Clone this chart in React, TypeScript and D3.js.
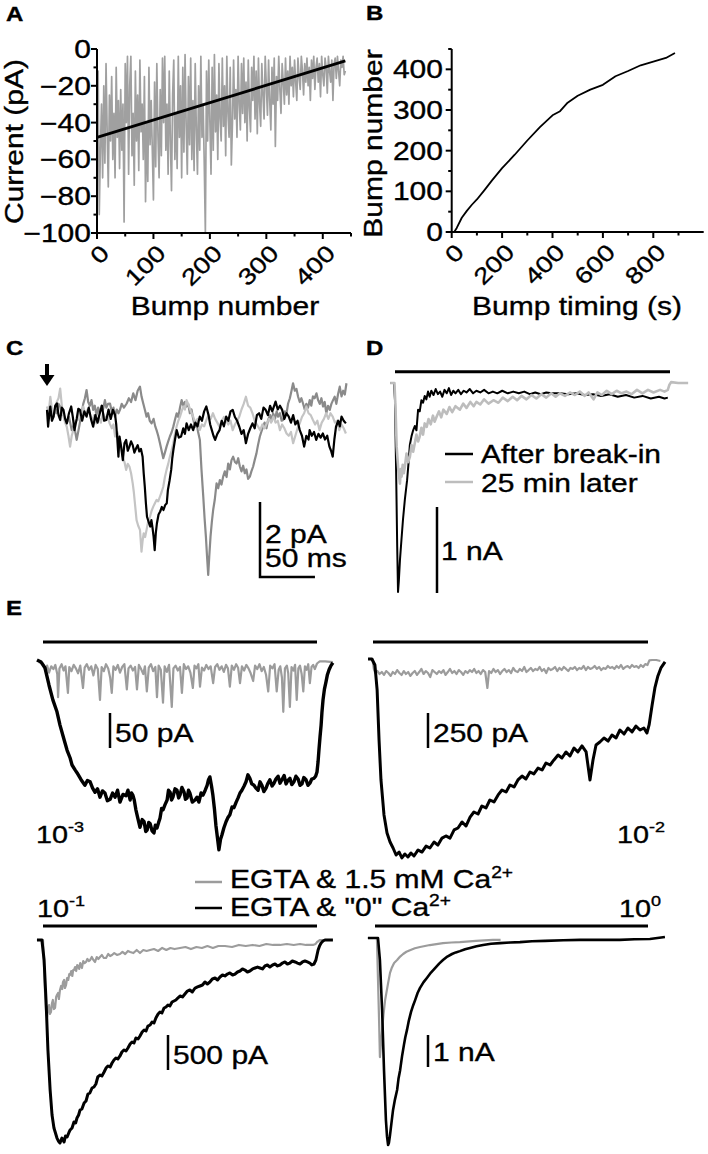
import React from 'react';
import * as d3 from 'd3';

const FONT = '"Liberation Sans", Arial, Helvetica, sans-serif';
const SX = 1.2;

// ---------- Panel A ----------
const aTicksY = [0, -20, -40, -60, -80, -100];
const aMinorY = [-10, -30, -50, -70, -90];
const aTicksX = [0, 100, 200, 300, 400];
const aMinorX = [50, 150, 250, 350, 450];
const aBumpStep = 2; // amplitudes listed for every 2nd bump
const aAmps = [
  -40, -12, -90, -55, -30, -70, -20, -62, -8, -45,
  -75, -25, -50, -15, -60, -35, -70, -10, -48, -28,
  -65, -22, -55, -30, -94, -8, -40, -4, -68, -20,
  -4, -58, -35, -74, -12, -50, -25, -66, -6, -45,
  -30, -60, -15, -83, -40, -72, -10, -52, -28, -55,
  -82, -18, -64, -8, -47, -70, -22, -58, -5, -40,
  -4, -55, -30, -68, -12, -50, -77, -25, -6, -60,
  -35, -65, -4, -48, -20, -70, -10, -56, -3, -42,
  -68, -15, -52, -5, -60, -28, -66, -8, -44, -68,
  -20, -55, -4, -48, -30, -62, -100, -12, -50, -6,
  -40, -68, -10, -55, -3, -45, -25, -60, -8, -38,
  -50, -5, -42, -20, -58, -4, -35, -48, -10, -63,
  -40, -6, -38, -22, -48, -4, -30, -44, -8, -35,
  -5, -40, -18, -50, -6, -32, -45, -10, -28, -4,
  -38, -12, -46, -5, -30, -42, -8, -25, -38, -4,
  -20, -36, -6, -28, -44, -10, -30, -5, -53, -15,
  -28, -4, -22, -35, -8, -18, -30, -5, -25, -12,
  -30, -4, -20, -10, -26, -6, -18, -28, -5, -15,
  -22, -4, -12, -25, -8, -18, -5, -20, -10, -28,
  -6, -16, -4, -22, -10, -5, -18, -8, -26, -4,
  -14, -20, -5, -10, -24, -4, -12, -18, -6, -28,
  -8, -5, -16, -4, -12, -20, -6, -10, -4, -14,
  -12,
];
const aFit: [number, number][] = [[0, -48], [440, -6.5]];

// ---------- Panel B ----------
const bTicksY = [0, 100, 200, 300, 400];
const bMinorY = [50, 150, 250, 350, 450];
const bTicksX = [0, 200, 400, 600, 800];
const bMinorX = [100, 300, 500, 700, 900];
const bTime = [10, 20, 40, 60, 80, 100, 130, 160, 200, 250, 300, 350, 400, 430, 460, 500, 550, 600, 650, 700, 750, 800, 850, 886];
const bCount = [0, 10, 35, 52, 67, 80, 103, 127, 157, 190, 225, 258, 287, 297, 318, 335, 350, 362, 383, 396, 410, 419, 428, 440];

// ---------- Panel C (t in ms, current in pA) ----------
const cBlack: [number, number][] = [[0,0.19],[1,-0.26],[2,0.05],[3,0.28],[4.5,-0.1],[6,0.01],[7.5,0.3],[9,0.36],[10.5,0.05],[12,-0.08],[13.5,0.25],[15,0.19],[16.5,-0.05],[18,-0.17],[20,0.1],[22,0.28],[23.5,0.0],[25,-0.35],[27,-0.05],[28.5,0.22],[30,0.19],[32,-0.1],[34,0.15],[36,0.01],[38,0.25],[40,-0.05],[42,-0.26],[44,0.05],[46,-0.15],[48,0.10],[50,0.3],[52,-0.1],[54,-0.08],[56,0.2],[58,-0.05],[60,0.19],[62,0.05],[63,-0.2],[64,-0.6],[65,-1.06],[66,-0.52],[67.5,-0.8],[69,-1.15],[70.5,-0.7],[72,-0.61],[73.5,-0.9],[75,-0.79],[76.5,-0.65],[78,-0.75],[79.5,-0.95],[81,-0.84],[82.5,-0.75],[84,-0.92],[85.5,-0.85],[87,-1.06],[88,-1.5],[89,-1.86],[90,-2.3],[91,-2.66],[92.5,-2.8],[94,-2.92],[95,-2.75],[96,-2.95],[97,-3.19],[98,-3.55],[99,-3.1],[100,-2.84],[101.5,-2.6],[103,-2.52],[104.5,-2.4],[106,-2.48],[107.5,-2.35],[109,-2.3],[110,-1.95],[111.5,-1.7],[113,-1.41],[114,-1.1],[115,-0.88],[116.5,-0.6],[118,-0.35],[120,-0.55],[122,-0.52],[124,-0.3],[125.5,-0.45],[127,-0.17],[129,-0.35],[131,-0.2],[133,-0.35],[135,-0.15],[137,-0.25],[139,0.01],[141,-0.1],[143,0.15],[145,0.28],[147,0.05],[148.5,-0.2],[150,-0.35],[151.5,-0.5],[153,-0.61],[155,-0.45],[157,-0.35],[159,-0.1],[161,-0.25],[163,0.01],[165,-0.1],[167,0.15],[169,0.19],[171,0.0],[173,-0.1],[175,-0.26],[177,-0.45],[179,-0.35],[181,-0.7],[183,-0.45],[185,-0.3],[187,-0.17],[189,-0.3],[191,0.05],[193,0.1],[195,-0.05],[197,0.25],[199,0.19],[201,0.05],[203,0.3],[205,0.15],[208,0.41],[210,0.2],[212,0.3],[214,0.19],[216,-0.05],[218,0.1],[220,0.01],[222,-0.15],[224,0.05],[226,-0.2],[228,-0.1],[230,-0.35],[232,-0.5],[234,-0.79],[236,-0.5],[238,-0.6],[239,-0.35],[241,-0.5],[243,-0.4],[245,-0.61],[247,-0.45],[249,-0.55],[251,-0.44],[253,-0.6],[255,-0.5],[257,-0.79],[258.5,-0.9],[260,-1.06],[261.5,-0.6],[263,-0.26],[265,-0.1],[266.5,-0.25],[268,0.01],[270,-0.1],[272,-0.17]];
const cLight: [number, number][] = [[0,0.28],[1.5,0.1],[3,0.54],[4.5,0.2],[6,0.01],[7.5,0.25],[9,0.41],[10.5,0.5],[12,0.76],[13.5,0.3],[15,0.01],[16.5,-0.15],[18,-0.26],[19.5,-0.5],[21,-0.79],[22.5,-0.5],[24,-0.35],[26,-0.1],[28,-0.08],[30,0.15],[31.5,0.0],[33,0.28],[35,0.05],[37,0.2],[39,0.1],[41,-0.1],[43,0.05],[45,-0.17],[47,0.0],[49,-0.15],[51,0.1],[53,-0.05],[55,0.05],[57,-0.17],[59,-0.3],[60.5,-0.2],[62,-0.52],[64,-0.4],[66,-0.61],[67.5,-0.8],[69,-1.06],[70.5,-1.2],[72,-1.41],[73.5,-1.25],[75,-1.32],[76.5,-1.5],[78,-1.77],[79,-2.0],[80,-2.3],[81.5,-2.75],[83,-2.9],[84.6,-3.01],[85.3,-3.3],[86,-3.59],[87,-3.3],[88,-3.1],[89.3,-3.2],[90.6,-3.01],[92,-2.8],[93.7,-2.66],[95.2,-2.5],[96.7,-2.39],[98.2,-2.3],[99.7,-2.21],[101.2,-2.25],[102.8,-2.12],[104.3,-2.0],[105.8,-1.86],[107.3,-1.6],[108.8,-1.41],[110.3,-1.25],[111.8,-1.06],[113.3,-0.9],[114.9,-0.7],[116.4,-0.45],[117.9,-0.26],[119.5,-0.1],[121,0.01],[122.5,0.15],[124,0.28],[125.5,0.2],[127,0.45],[129,0.3],[131,0.15],[133,0.01],[135,-0.15],[137,-0.05],[139,-0.35],[141,-0.2],[143,-0.25],[145,-0.08],[147,0.05],[149,-0.05],[151,0.1],[153,-0.05],[155,-0.15],[157,-0.26],[159,-0.1],[161,0.0],[163,-0.08],[165,-0.2],[167,-0.1],[169,-0.35],[171,-0.2],[173,-0.1],[175,0.01],[177,0.2],[179,0.35],[181,0.54],[183,0.3],[185,0.25],[187,0.1],[189,-0.1],[191,-0.2],[194,-0.35],[196,-0.2],[198,-0.3],[200,-0.17],[202,-0.05],[204,-0.15],[206,0.01],[208,-0.15],[210,-0.1],[212,-0.35],[214,-0.2],[216,-0.3],[218,-0.44],[220,-0.5],[222,-0.4],[224,-0.7],[226,-0.5],[228,-0.3],[230,-0.17],[232,0.0],[234,0.1],[236,0.28],[238,0.1],[240,0.05],[242,-0.08],[244,-0.2],[246,-0.1],[248,-0.35],[250,-0.15],[252,-0.05],[254,0.1],[256,-0.05],[258,0.1],[260,0.01],[262,-0.15],[264,-0.1],[266,-0.35],[268,-0.2],[270,-0.3],[272,-0.44]];
const cMid: [number, number][] = [[0,0.19],[1.5,0.0],[3,0.25],[4.5,0.1],[6,0.01],[7.5,0.2],[9,0.1],[10.5,0.35],[12,0.28],[13.5,0.05],[15,0.1],[16.5,-0.1],[18,-0.17],[20,0.0],[22.5,-0.35],[24.5,-0.2],[27,-0.61],[29,-0.3],[31.5,0.1],[33,0.35],[34.5,0.5],[36,0.72],[37.5,0.4],[39,0.3],[40.5,0.45],[42,0.19],[43.5,0.3],[45,0.05],[46.5,0.25],[48,0.1],[49.5,0.3],[51,0.2],[52.7,0.45],[54,0.25],[55.5,0.35],[57.3,0.36],[59,0.15],[60.5,0.25],[61.8,0.01],[63.5,0.2],[65,0.1],[66.4,0.19],[68,0.35],[70,0.25],[72.5,0.36],[74.5,0.5],[76.5,0.4],[78.5,0.63],[80.5,0.45],[82.5,0.7],[84.6,0.81],[86,0.55],[87.6,0.36],[89,0.2],[90.6,0.01],[92,0.1],[93.5,-0.1],[95.2,-0.17],[97,-0.05],[98.5,-0.25],[99.7,-0.35],[101.2,-0.5],[102.8,-0.7],[104.3,-0.9],[105.8,-1.1],[107.3,-0.95],[108.8,-0.79],[110.3,-0.65],[111.8,-0.52],[113.5,-0.4],[115,-0.25],[116.4,-0.08],[118,0.1],[119.5,0.0],[121,0.25],[122.5,0.45],[124,0.3],[125.5,0.4],[127,0.28],[128.5,0.35],[130,0.1],[131.5,0.2],[133,-0.05],[134.6,-0.26],[136,-0.15],[137.5,-0.4],[139.1,-0.61],[140.6,-1.41],[142.2,-2.12],[143.4,-2.7],[144.6,-3.19],[145.6,-3.7],[146.7,-4.21],[147.7,-3.7],[148.8,-3.19],[150,-2.8],[151.2,-2.48],[152.7,-2.2],[154.3,-1.77],[155.8,-1.9],[157.3,-1.68],[158.8,-1.8],[160.3,-1.59],[161.8,-1.45],[163.4,-1.6],[164.9,-1.24],[166.4,-1.4],[167.9,-1.15],[169.4,-1.06],[171,-1.2],[172.5,-1.24],[174,-1.1],[175.5,-1.32],[177,-1.45],[178.5,-1.3],[180,-1.5],[181.5,-1.4],[183,-1.65],[184.6,-1.59],[186,-1.45],[187.6,-1.32],[189,-1.15],[190.6,-0.97],[192,-0.75],[193.7,-0.52],[195,-0.4],[196.7,-0.26],[198,-0.15],[199.7,-0.3],[201.2,-0.08],[203,0.05],[204.5,-0.1],[205.8,0.1],[207.5,-0.05],[209,0.15],[210.3,0.01],[212,0.1],[213.5,-0.1],[214.9,-0.08],[216.5,0.15],[218,0.1],[219.4,0.36],[221,0.5],[222.5,0.7],[223.9,0.9],[225.5,0.7],[227,0.75],[228.5,0.54],[230,0.4],[231.5,0.5],[233,0.36],[234.5,0.2],[236,0.35],[237.5,0.25],[239.1,0.45],[240.5,0.3],[242,0.55],[243.5,0.5],[245.2,0.63],[246.7,0.45],[248.2,0.35],[249.7,0.5],[251.2,0.28],[252.7,0.4],[254.2,0.1],[255.7,0.3],[257.3,0.19],[258.8,0.35],[260.3,0.45],[261.8,0.54],[263.3,0.35],[264.8,0.6],[266.4,0.81],[268,0.55],[269.5,0.7],[271,0.6],[272.5,0.9]];
const cBarTime = 50; // ms
const cBarAmp = 2; // pA

// ---------- Panel D (t in ms, current in nA) ----------
const dStim = [0, 500];
const dBlack: [number, number][] = [[-9,0],[-2,0],[0,-0.2],[2,-1.01],[4,-1.9],[5.5,-2.43],[7,-2.3],[9,-2.06],[12,-1.8],[14.5,-1.59],[18,-1.35],[22,-1.13],[25,-0.9],[27,-0.72],[30,-0.62],[33,-0.55],[36,-0.5],[39,-0.55],[42,-0.31],[45,-0.33],[48,-0.2],[51,-0.23],[54,-0.15],[57,-0.19],[60,-0.1],[63,-0.16],[66,-0.09],[70,-0.14],[74,-0.07],[78,-0.13],[82,-0.1],[86,-0.16],[90,-0.08],[94,-0.12],[98,-0.06],[102,-0.14],[106,-0.09],[110,-0.12],[115,-0.08],[120,-0.13],[125,-0.09],[130,-0.11],[136,-0.07],[142,-0.12],[148,-0.09],[155,-0.11],[162,-0.08],[170,-0.12],[178,-0.1],[186,-0.12],[195,-0.09],[205,-0.12],[215,-0.1],[225,-0.12],[235,-0.1],[245,-0.13],[255,-0.11],[265,-0.13],[275,-0.11],[285,-0.12],[300,-0.12],[315,-0.13],[330,-0.12],[345,-0.14],[360,-0.13],[375,-0.15],[390,-0.13],[405,-0.16],[420,-0.14],[435,-0.17],[450,-0.15],[465,-0.18],[480,-0.16],[490,-0.18],[496,-0.17]];
const dGray: [number, number][] = [[-9,0],[-1,0],[1,-0.3],[3,-0.74],[6,-1.01],[9,-1.17],[10.5,-1.0],[12,-1.09],[14,-0.95],[16,-1.05],[18,-0.97],[21,-0.82],[24,-0.92],[27,-0.86],[30,-0.72],[33,-0.8],[36,-0.7],[39,-0.6],[42,-0.68],[45,-0.62],[48,-0.52],[51,-0.6],[54,-0.47],[57.6,-0.51],[61,-0.42],[65,-0.48],[69,-0.38],[72,-0.45],[75.8,-0.39],[80,-0.33],[84,-0.4],[88,-0.31],[94,-0.36],[99,-0.28],[104,-0.34],[110,-0.27],[118,-0.31],[124,-0.24],[130,-0.29],[137,-0.22],[143,-0.27],[148,-0.22],[155,-0.25],[162,-0.19],[170,-0.24],[179,-0.2],[188,-0.23],[196,-0.17],[205,-0.21],[214,-0.16],[222,-0.2],[230,-0.15],[239,-0.19],[248,-0.14],[257,-0.18],[266,-0.13],[275,-0.17],[284,-0.12],[292,-0.16],[300,-0.12],[309,-0.15],[318,-0.11],[327,-0.14],[336,-0.1],[345,-0.15],[352,-0.11],[361,-0.19],[368,-0.11],[376,-0.14],[385,-0.09],[394,-0.13],[403,-0.09],[412,-0.12],[421,-0.1],[430,-0.13],[440,-0.08],[450,-0.12],[460,-0.08],[470,-0.11],[482,-0.08],[490,-0.1],[496,-0.08],[499,-0.02],[502,0.01],[515,0],[533,0]];
const dBarAmp = 1; // nA
const dLegend = ['After break-in', '25 min later'];

// ---------- Panel E (t in ms, stimulus 0-1000) ----------
const eStim = [0, 1000];
const eLabels = ['-3', '-2', '-1', '0'];
const eBars = ['50 pA', '250 pA', '500 pA', '1 nA'];
const eBarAmps = [-50, -250, -500, -1];
const eLegend = ['EGTA & 1.5 mM Ca', 'EGTA & "0" Ca'];

const eTLBlack: [number, number][] = [[-22,0],[-7,-3],[7,-11],[22,-36],[36,-57],[51,-74],[62,-93],[77,-114],[88,-129],[99,-140],[106,-150],[117,-157],[124,-161],[139,-171],[153,-179],[162,-172],[172,-174],[181,-183],[190,-189],[199,-184],[208,-196],[217,-187],[226,-190],[235,-201],[245,-199],[254,-190],[263,-196],[272,-186],[281,-203],[292,-192],[303,-194],[310,-186],[318,-200],[323,-190],[328,-193],[333,-200],[339,-214],[346,-226],[354,-239],[362,-228],[369,-231],[375,-245],[380,-243],[386,-232],[391,-234],[398,-244],[405,-247],[410,-236],[416,-240],[422,-232],[427,-226],[433,-212],[438,-214],[445,-207],[453,-200],[458,-186],[464,-189],[469,-200],[474,-196],[482,-184],[489,-186],[495,-197],[500,-193],[507,-182],[515,-189],[520,-199],[526,-197],[531,-186],[536,-190],[545,-203],[555,-200],[562,-196],[569,-203],[577,-190],[584,-193],[592,-186],[599,-179],[604,-171],[609,-167],[615,-180],[620,-193],[626,-214],[631,-236],[637,-255],[642,-271],[648,-256],[653,-250],[660,-240],[668,-231],[675,-225],[682,-221],[690,-210],[697,-211],[705,-203],[712,-197],[719,-190],[726,-186],[734,-180],[741,-174],[748,-164],[755,-169],[762,-177],[770,-179],[777,-183],[785,-186],[792,-174],[799,-179],[806,-188],[814,-183],[821,-176],[828,-171],[836,-180],[843,-176],[850,-170],[858,-166],[865,-176],[872,-171],[880,-165],[887,-177],[894,-172],[901,-169],[908,-178],[916,-174],[923,-166],[931,-170],[938,-179],[945,-177],[952,-168],[960,-171],[967,-179],[974,-176],[981,-170],[989,-169],[995,-166],[1000,-160],[1004,-145],[1007,-129],[1011,-110],[1015,-93],[1018,-75],[1022,-57],[1027,-42],[1033,-31],[1038,-21],[1044,-14],[1051,-8],[1058,-4]];
const eTLGray: [number, number][] = [[-15,-3],[0,-5],[8,-14],[15,-8],[22,-18],[30,-9],[38,-13],[45,-7],[52,-20],[55,-53],[60,-12],[68,-6],[75,-15],[82,-9],[91,-47],[96,-10],[104,-16],[112,-7],[120,-12],[128,-19],[136,-8],[146,-40],[152,-11],[160,-6],[168,-14],[176,-9],[184,-22],[192,-7],[200,-13],[208,-57],[214,-10],[222,-16],[230,-6],[238,-12],[245,-25],[251,-47],[257,-9],[265,-14],[273,-7],[281,-18],[289,-10],[297,-6],[306,-42],[312,-12],[320,-8],[328,-15],[336,-10],[343,-42],[350,-7],[358,-13],[366,-20],[372,-9],[379,-45],[386,-11],[394,-6],[402,-16],[410,-10],[416,-53],[422,-8],[430,-14],[438,-61],[444,-9],[452,-17],[460,-7],[470,-67],[476,-12],[484,-8],[492,-15],[500,-10],[507,-47],[514,-6],[522,-13],[530,-9],[538,-18],[547,-40],[553,-8],[560,-12],[567,-6],[573,-38],[580,-11],[588,-15],[596,-7],[604,-13],[612,-9],[621,-33],[628,-10],[636,-6],[644,-14],[652,-9],[660,-17],[668,-7],[675,-12],[682,-38],[689,-8],[697,-14],[705,-6],[712,-11],[719,-33],[726,-9],[734,-15],[742,-7],[750,-12],[758,-19],[767,-30],[774,-8],[782,-13],[790,-6],[798,-16],[806,-10],[814,-21],[822,-45],[829,-8],[837,-12],[845,-6],[853,-45],[860,-14],[866,-9],[872,-25],[877,-74],[883,-12],[890,-8],[895,-19],[901,-67],[907,-10],[914,-15],[920,-7],[926,-57],[932,-12],[938,-8],[944,-20],[950,-45],[956,-9],[962,-14],[968,-6],[974,-33],[980,-10],[986,-7],[992,-13],[1000,-5],[1010,-2],[1030,-2],[1058,-3]];

const eTRBlack: [number, number][] = [[-18,0],[-4,0],[7,-43],[15,-221],[22,-579],[29,-864],[40,-1114],[51,-1243],[62,-1307],[73,-1350],[84,-1400],[95,-1379],[105,-1421],[116,-1393],[127,-1414],[138,-1386],[149,-1407],[164,-1364],[178,-1379],[193,-1336],[207,-1350],[222,-1307],[236,-1329],[251,-1279],[265,-1264],[280,-1279],[295,-1221],[309,-1207],[324,-1164],[338,-1193],[353,-1129],[367,-1093],[382,-1107],[396,-1050],[411,-1064],[425,-1007],[440,-1021],[455,-971],[469,-936],[484,-950],[498,-900],[513,-914],[527,-864],[542,-836],[556,-857],[571,-807],[585,-821],[600,-779],[615,-793],[629,-743],[644,-757],[658,-721],[673,-686],[687,-707],[702,-664],[716,-693],[731,-636],[745,-664],[760,-621],[775,-664],[789,-864],[800,-721],[811,-614],[825,-593],[840,-564],[855,-586],[869,-543],[884,-564],[898,-507],[913,-536],[927,-493],[942,-521],[956,-479],[971,-507],[985,-493],[996,-529],[1004,-471],[1015,-329],[1025,-207],[1036,-121],[1047,-64],[1062,-21]];
const eTRGray: [number, number][] = [[-18,0],[-2,0],[3,-70],[8,-100],[16,-86],[24,-107],[32,-93],[40,-114],[48,-86],[56,-100],[64,-121],[72,-93],[80,-107],[88,-79],[96,-100],[104,-114],[112,-86],[120,-107],[128,-93],[136,-121],[144,-100],[152,-86],[160,-114],[168,-93],[176,-71],[184,-107],[192,-86],[200,-100],[208,-129],[216,-79],[224,-93],[232,-107],[240,-86],[248,-100],[256,-79],[264,-114],[272,-93],[280,-71],[288,-100],[296,-86],[304,-107],[312,-79],[320,-93],[328,-114],[336,-86],[344,-100],[352,-79],[360,-93],[368,-71],[376,-100],[384,-86],[392,-107],[400,-79],[408,-93],[416,-207],[422,-86],[430,-100],[438,-71],[446,-93],[454,-79],[462,-107],[470,-86],[478,-71],[486,-93],[494,-79],[502,-100],[510,-64],[518,-86],[526,-93],[534,-71],[542,-86],[550,-57],[558,-93],[566,-79],[574,-64],[582,-86],[590,-71],[598,-79],[606,-57],[614,-86],[622,-71],[630,-100],[638,-64],[646,-79],[654,-71],[662,-57],[670,-86],[678,-64],[686,-79],[694,-57],[702,-71],[710,-86],[718,-64],[726,-71],[734,-57],[742,-79],[750,-64],[758,-71],[766,-50],[774,-79],[782,-57],[790,-71],[798,-64],[806,-50],[814,-71],[822,-57],[830,-79],[838,-64],[846,-71],[854,-50],[862,-64],[870,-57],[878,-71],[886,-50],[894,-64],[902,-43],[910,-71],[918,-57],[926,-50],[934,-64],[942,-43],[950,-57],[958,-50],[966,-64],[974,-43],[982,-57],[990,-36],[998,-43],[1005,-10],[1015,-7],[1030,-7],[1045,-14]];

const eBLBlack: [number, number][] = [[-22,0],[-4,0],[4,-286],[11,-857],[18,-1571],[26,-2143],[33,-2500],[40,-2686],[51,-2829],[56,-2871],[62,-2900],[69,-2829],[77,-2886],[82,-2800],[88,-2814],[94,-2757],[99,-2714],[106,-2686],[113,-2600],[119,-2614],[124,-2543],[130,-2500],[135,-2429],[142,-2414],[150,-2329],[157,-2300],[164,-2200],[171,-2186],[179,-2114],[186,-2100],[193,-2057],[200,-1957],[208,-1929],[215,-1943],[223,-1886],[230,-1829],[237,-1800],[245,-1814],[252,-1757],[259,-1714],[266,-1686],[273,-1700],[281,-1657],[288,-1600],[296,-1571],[303,-1586],[310,-1543],[318,-1486],[325,-1457],[332,-1471],[339,-1400],[347,-1414],[354,-1371],[362,-1314],[369,-1286],[376,-1300],[383,-1229],[391,-1214],[398,-1171],[405,-1186],[412,-1114],[420,-1057],[427,-1029],[434,-1043],[442,-971],[449,-957],[456,-929],[463,-943],[471,-886],[478,-871],[485,-857],[492,-829],[500,-800],[509,-814],[518,-771],[527,-729],[536,-714],[545,-743],[555,-686],[564,-671],[573,-657],[582,-643],[591,-600],[600,-629],[609,-600],[618,-557],[628,-543],[637,-571],[646,-529],[655,-500],[664,-514],[673,-486],[682,-471],[692,-500],[701,-486],[710,-457],[719,-443],[728,-414],[737,-429],[746,-457],[755,-443],[765,-414],[774,-400],[783,-386],[792,-400],[801,-414],[810,-371],[819,-357],[828,-386],[838,-357],[847,-343],[856,-371],[865,-357],[874,-329],[883,-314],[892,-343],[901,-329],[910,-300],[920,-314],[929,-329],[938,-343],[947,-314],[956,-300],[965,-314],[974,-329],[981,-357],[989,-343],[996,-286],[1004,-143],[1010,-80],[1015,-43],[1022,-14],[1029,0],[1058,0]];
const eBLGray: [number, number][] = [[-22,0],[0,0],[4,-400],[7,-714],[11,-1000],[15,-1100],[18,-957],[22,-929],[25,-1057],[29,-1029],[33,-900],[36,-857],[40,-986],[44,-971],[48,-814],[51,-786],[55,-757],[58,-843],[62,-714],[66,-657],[70,-700],[73,-600],[77,-571],[80,-686],[84,-643],[88,-543],[92,-571],[96,-486],[99,-500],[103,-443],[107,-514],[110,-429],[113,-429],[117,-386],[121,-443],[125,-357],[128,-371],[132,-414],[136,-329],[142,-400],[147,-300],[152,-329],[157,-314],[162,-271],[167,-300],[172,-286],[178,-243],[184,-286],[190,-314],[196,-243],[202,-271],[208,-243],[215,-214],[222,-257],[230,-257],[238,-200],[245,-229],[252,-214],[260,-186],[270,-214],[281,-200],[290,-171],[300,-200],[310,-157],[318,-171],[330,-186],[342,-143],[354,-186],[366,-143],[378,-157],[391,-143],[405,-129],[420,-157],[435,-114],[450,-143],[465,-114],[480,-129],[500,-114],[520,-100],[540,-129],[560,-100],[580,-114],[600,-86],[620,-114],[640,-86],[664,-86],[690,-100],[715,-71],[740,-86],[765,-71],[790,-86],[815,-57],[840,-71],[865,-71],[890,-57],[915,-71],[938,-57],[960,-71],[985,-71],[995,-57],[1000,-29],[1006,-14],[1011,0],[1058,0]];

const eBRBlack: [number, number][] = [[-26,0],[11,0],[18,-0.69],[26,-2.25],[33,-4.13],[40,-5.69],[44,-6.2],[48,-6.47],[51,-6.4],[55,-6.16],[60,-5.8],[66,-5.38],[73,-5.05],[81,-4.75],[86,-4.4],[92,-4.13],[99,-3.7],[106,-3.34],[111,-3.1],[117,-2.88],[124,-2.58],[132,-2.31],[140,-2.1],[147,-1.94],[156,-1.72],[165,-1.56],[178,-1.38],[190,-1.25],[205,-1.08],[220,-0.94],[235,-0.8],[249,-0.69],[265,-0.58],[282,-0.5],[296,-0.45],[311,-0.41],[330,-0.35],[348,-0.31],[372,-0.26],[396,-0.22],[425,-0.18],[458,-0.16],[495,-0.14],[531,-0.13],[575,-0.1],[623,-0.09],[690,-0.07],[751,-0.06],[820,-0.06],[897,-0.06],[950,-0.04],[1007,-0.03],[1062,0.03]];
const eBRGray: [number, number][] = [[-26,0],[7,0],[11,-1.31],[15,-2.6],[18,-3.72],[22,-3.3],[26,-2.88],[31,-2.4],[37,-1.94],[42,-1.7],[48,-1.41],[55,-1.09],[62,-0.92],[70,-0.78],[81,-0.69],[92,-0.58],[103,-0.5],[115,-0.43],[128,-0.38],[146,-0.32],[165,-0.28],[183,-0.25],[201,-0.22],[225,-0.19],[249,-0.16],[280,-0.14],[311,-0.13],[370,-0.09],[432,-0.06],[460,-0.06]];

// ---------- helpers ----------
type TP = { x: number; y: number; size?: number; anchor?: string; rot?: number; weight?: string | number; dy?: string; children?: React.ReactNode };
function Txt({ x, y, size = 25, anchor = 'start', rot = 0, weight = 'normal', dy, children }: TP) {
  return (
    <text transform={`translate(${x},${y}) rotate(${rot}) scale(${SX},1)`} fontSize={size} textAnchor={anchor as any}
      fontWeight={weight} dy={dy} fontFamily={FONT} fill="#000" stroke="#000" strokeWidth={0.35}>{children}</text>
  );
}
const fmt = (v: number) => (v < 0 ? '\u2212' + Math.abs(v) : String(v));

function path(data: [number, number][], xs: d3.ScaleLinear<number, number>, ys: d3.ScaleLinear<number, number>) {
  return d3.line<[number, number]>().x(d => xs(d[0])).y(d => ys(d[1]))(data) || '';
}

const AX = 2;

function PanelA() {
  const xs = d3.scaleLinear().domain([0, 450]).range([97, 351]);
  const ys = d3.scaleLinear().domain([-100, 0]).range([233, 49]);
  const pts: [number, number][] = aAmps.map((v, i) => [i * aBumpStep, v]);
  return (
    <g>
      <Txt x={6} y={21} size={20} weight="bold">A</Txt>
      <path d={path(pts, xs, ys)} fill="none" stroke="#a0a0a0" strokeWidth={1.7} strokeLinejoin="round" />
      <path d={path(aFit, xs, ys)} fill="none" stroke="#000" strokeWidth={2.8} />
      <line x1={xs(0)} x2={xs(0)} y1={ys(0)} y2={ys(-100)} stroke="#000" strokeWidth={AX} />
      <line x1={xs(0) - 1} x2={xs(450)} y1={ys(-100)} y2={ys(-100)} stroke="#000" strokeWidth={AX} />
      {aTicksY.map(v => <g key={v}>
        <line x1={xs(0) - 6} x2={xs(0)} y1={ys(v)} y2={ys(v)} stroke="#000" strokeWidth={AX} />
        <Txt x={91} y={ys(v)} anchor="end" dy="0.36em">{fmt(v)}</Txt>
      </g>)}
      {aMinorY.map(v => <line key={v} x1={xs(0) - 3.5} x2={xs(0)} y1={ys(v)} y2={ys(v)} stroke="#000" strokeWidth={AX} />)}
      {aTicksX.map(v => <g key={v}>
        <line x1={xs(v)} x2={xs(v)} y1={ys(-100)} y2={ys(-100) + 6} stroke="#000" strokeWidth={AX} />
        <Txt x={xs(v) + 2} y={243} size={23} anchor="end" rot={-45} dy="0.72em">{v}</Txt>
      </g>)}
      {aMinorX.map(v => <line key={v} x1={xs(v)} x2={xs(v)} y1={ys(-100)} y2={ys(-100) + 3.5} stroke="#000" strokeWidth={AX} />)}
      <Txt x={225} y={315} anchor="middle">Bump number</Txt>
      <Txt x={23} y={141.5} anchor="middle" rot={-90}>Current (pA)</Txt>
    </g>
  );
}

function PanelB() {
  const xs = d3.scaleLinear().domain([0, 1000]).range([451.7, 703.7]);
  const ys = d3.scaleLinear().domain([0, 450]).range([232, 49]);
  const pts: [number, number][] = bTime.map((t, i) => [t, bCount[i]]);
  return (
    <g>
      <Txt x={366} y={20} size={20} weight="bold">B</Txt>
      <path d={path(pts, xs, ys)} fill="none" stroke="#000" strokeWidth={1.8} strokeLinejoin="round" />
      <line x1={xs(0)} x2={xs(0)} y1={ys(450)} y2={ys(0)} stroke="#000" strokeWidth={AX} />
      <line x1={xs(0) - 1} x2={xs(1000)} y1={ys(0)} y2={ys(0)} stroke="#000" strokeWidth={AX} />
      {bTicksY.map(v => <g key={v}>
        <line x1={xs(0) - 6} x2={xs(0)} y1={ys(v)} y2={ys(v)} stroke="#000" strokeWidth={AX} />
        <Txt x={443} y={ys(v)} anchor="end" dy="0.36em">{v}</Txt>
      </g>)}
      {bMinorY.map(v => <line key={v} x1={xs(0) - 3.5} x2={xs(0)} y1={ys(v)} y2={ys(v)} stroke="#000" strokeWidth={AX} />)}
      {bTicksX.map(v => <g key={v}>
        <line x1={xs(v)} x2={xs(v)} y1={ys(0)} y2={ys(0) + 6} stroke="#000" strokeWidth={AX} />
        <Txt x={xs(v) + 2} y={242} size={23} anchor="end" rot={-45} dy="0.72em">{v}</Txt>
      </g>)}
      {bMinorX.map(v => <line key={v} x1={xs(v)} x2={xs(v)} y1={ys(0)} y2={ys(0) + 3.5} stroke="#000" strokeWidth={AX} />)}
      <Txt x={577} y={315} anchor="middle">Bump timing (s)</Txt>
      <Txt x={382} y={143.5} anchor="middle" rot={-90}>Bump number</Txt>
    </g>
  );
}

function PanelC() {
  const xs = d3.scaleLinear().domain([0, 273]).range([47, 347]);
  const ys = d3.scaleLinear().domain([0, -2]).range([417, 492]);
  const barX = 260, barY = 577;
  const vLen = ys(-cBarAmp) - ys(0);
  const hLen = xs(cBarTime) - xs(0);
  return (
    <g>
      <Txt x={6} y={355} size={20} weight="bold">C</Txt>
      <rect x={45} y={364} width={4} height={12} fill="#000" />
      <path d="M39.5,375 L54.5,375 L47,386 Z" fill="#000" />
      <path d={path(cMid, xs, ys)} fill="none" stroke="#8a8a8a" strokeWidth={2.2} strokeLinejoin="round" />
      <path d={path(cLight, xs, ys)} fill="none" stroke="#c4c4c4" strokeWidth={2.2} strokeLinejoin="round" />
      <path d={path(cBlack, xs, ys)} fill="none" stroke="#000" strokeWidth={2.2} strokeLinejoin="round" />
      <path d={`M${barX},${barY - vLen} L${barX},${barY} L${barX + hLen},${barY}`} fill="none" stroke="#000" strokeWidth={2.5} />
      <Txt x={265} y={543}>{`${cBarAmp} pA`}</Txt>
      <Txt x={265} y={567}>{`${cBarTime} ms`}</Txt>
    </g>
  );
}

function PanelD() {
  const xs = d3.scaleLinear().domain([0, 500]).range([395, 670]);
  const ys = d3.scaleLinear().domain([0, -1]).range([383, 469]);
  const vLen = ys(-dBarAmp) - ys(0);
  return (
    <g>
      <Txt x={366} y={355} size={20} weight="bold">D</Txt>
      <line x1={xs(dStim[0])} x2={xs(dStim[1])} y1={371.7} y2={371.7} stroke="#000" strokeWidth={3} />
      <path d={path(dBlack, xs, ys)} fill="none" stroke="#000" strokeWidth={2} strokeLinejoin="round" />
      <path d={path(dGray, xs, ys)} fill="none" stroke="#bdbdbd" strokeWidth={2.6} strokeLinejoin="round" />
      <line x1={445} x2={473} y1={454} y2={454} stroke="#000" strokeWidth={2.5} />
      <line x1={445} x2={473} y1={482} y2={482} stroke="#bdbdbd" strokeWidth={2.5} />
      <Txt x={481} y={463}>{dLegend[0]}</Txt>
      <Txt x={481} y={492}>{dLegend[1]}</Txt>
      <line x1={437} x2={437} y1={593 - vLen} y2={593} stroke="#000" strokeWidth={2.5} />
      <Txt x={441} y={560}>{`${dBarAmp} nA`}</Txt>
    </g>
  );
}

function Sup({ base, exp, x, y }: { base: string; exp: string; x: number; y: number }) {
  return (
    <Txt x={x} y={y} size={24}>{base}<tspan fontSize={15} dy={-11}>{exp}</tspan></Txt>
  );
}

function ETrace({ xs, ys, gray, black, stimY, barX, barBottom, barAmp, barText, bw = 2.5 }: any) {
  const vLen = ys(barAmp) - ys(0);
  return (
    <g>
      <line x1={xs(eStim[0])} x2={xs(eStim[1])} y1={stimY} y2={stimY} stroke="#000" strokeWidth={3} />
      <path d={path(gray, xs, ys)} fill="none" stroke="#9c9c9c" strokeWidth={2.2} strokeLinejoin="round" />
      <path d={path(black, xs, ys)} fill="none" stroke="#000" strokeWidth={bw} strokeLinejoin="round" />
      <line x1={barX} x2={barX} y1={barBottom - vLen} y2={barBottom} stroke="#000" strokeWidth={2.5} />
      <Txt x={barX + 5} y={barBottom - 6}>{barText}</Txt>
    </g>
  );
}

function PanelE() {
  const xL = d3.scaleLinear().domain([0, 1000]).range([43, 317]);
  const xRT = d3.scaleLinear().domain([0, 1000]).range([373, 648]);
  const xRB = d3.scaleLinear().domain([0, 1000]).range([375, 648]);
  const yTL = d3.scaleLinear().domain([0, -50]).range([660, 695]);
  const yTR = d3.scaleLinear().domain([0, -250]).range([659, 694]);
  const yBL = d3.scaleLinear().domain([0, -500]).range([940, 975]);
  const yBR = d3.scaleLinear().domain([0, -1]).range([938, 970]);
  return (
    <g>
      <Txt x={6} y={615} size={20} weight="bold">E</Txt>
      <ETrace xs={xL} ys={yTL} gray={eTLGray} black={eTLBlack} stimY={642} barX={110} barBottom={748} barAmp={eBarAmps[0]} barText={eBars[0]} bw={3.4} />
      <ETrace xs={xRT} ys={yTR} gray={eTRGray} black={eTRBlack} stimY={642} barX={428} barBottom={748} barAmp={eBarAmps[1]} barText={eBars[1]} bw={3} />
      <ETrace xs={xL} ys={yBL} gray={eBLGray} black={eBLBlack} stimY={926} barX={168} barBottom={1070} barAmp={eBarAmps[2]} barText={eBars[2]} bw={3} />
      <ETrace xs={xRB} ys={yBR} gray={eBRGray} black={eBRBlack} stimY={926} barX={428} barBottom={1067} barAmp={eBarAmps[3]} barText={eBars[3]} bw={2.6} />
      <Sup base="10" exp={eLabels[0]} x={36} y={843} />
      <Sup base="10" exp={eLabels[1]} x={617} y={843} />
      <Sup base="10" exp={eLabels[2]} x={37} y={917} />
      <Sup base="10" exp={eLabels[3]} x={619} y={917} />
      <line x1={195} x2={222} y1={882} y2={882} stroke="#9c9c9c" strokeWidth={2.5} />
      <line x1={195} x2={222} y1={908} y2={908} stroke="#000" strokeWidth={2.5} />
      <Txt x={230} y={888} size={25}>{eLegend[0]}<tspan fontSize={16} dy={-10}>2+</tspan></Txt>
      <Txt x={230} y={916} size={25}>{eLegend[1]}<tspan fontSize={16} dy={-10}>2+</tspan></Txt>
    </g>
  );
}

export default function App() {
  return (
    <svg width={708} height={1154} viewBox="0 0 708 1154"
      style={{ position: 'absolute', left: 0, top: 0, display: 'block', background: '#fff' }}>
      <rect x={0} y={0} width={708} height={1154} fill="#fff" />
      <PanelA />
      <PanelB />
      <PanelC />
      <PanelD />
      <PanelE />
    </svg>
  );
}
